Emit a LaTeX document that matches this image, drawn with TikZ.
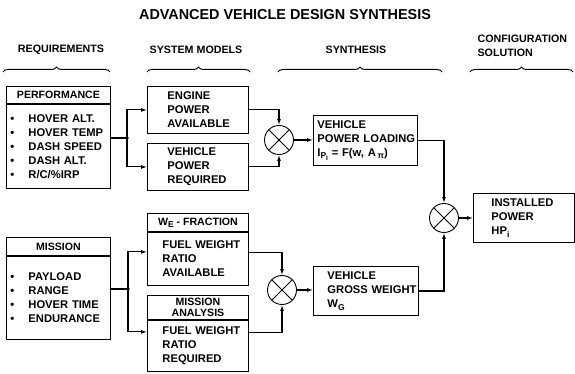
\documentclass[tikz,border=0pt]{standalone}
\usepackage{fontspec}
\setmainfont{Liberation Sans}
\usepackage{tikz}
\usetikzlibrary{arrows.meta,calc}
\usetikzlibrary{decorations.pathreplacing}

\newcommand{\itm}{\makebox[18pt][l]{\textbullet}}
\newcommand{\sub}[1]{\raisebox{-0.4ex}{\fontsize{8.5}{9}\selectfont #1}}
\newcommand{\subsub}[1]{\raisebox{-0.4ex}{\fontsize{6.5}{7}\selectfont #1}}

\begin{document}
\begin{tikzpicture}[x=1pt, y=-1pt, >={Latex[length=6pt,width=4pt]},
  box/.style={draw, line width=0.9pt, inner ysep=0pt, align=left, anchor=north west,
    font=\fontsize{11.2}{14}\selectfont\bfseries},
  headbox/.style={box, align=center, inner xsep=0pt, font=\fontsize{10.6}{11.5}\selectfont\bfseries},
  colhead/.style={font=\fontsize{10.7}{14}\selectfont\bfseries},
  curly/.style={decorate, decoration={brace, amplitude=5pt}, line width=1pt},
  flow/.style={line width=1.1pt},
  sumj/.style={draw, circle, line width=0.9pt, minimum size=29pt, inner sep=0pt,
    path picture={\draw[line width=0.9pt]
      (path picture bounding box.north west) -- (path picture bounding box.south east)
      (path picture bounding box.north east) -- (path picture bounding box.south west);}}]

\useasboundingbox (0,0) rectangle (575,374);

\node[font=\fontsize{14.4}{16}\selectfont\bfseries] (title) at (285,15) {ADVANCED VEHICLE DESIGN SYNTHESIS};

\node[colhead] (hreq) at (61,50) {REQUIREMENTS};
\node[colhead] (hsys) at (196,50) {SYSTEM MODELS};
\node[colhead] (hsyn) at (356,50) {SYNTHESIS};
\node[colhead, align=left, anchor=west] (hcfg) at (474,46) {CONFIGURATION\\SOLUTION};

\draw[curly] (3,72) -- (110,72);
\draw[curly] (147,72) -- (250,72);
\draw[curly] (278,72) -- (442,72);
\draw[curly] (470,72) -- (573,72);

\node[headbox, minimum width=104pt, minimum height=17pt] (perfhead) at (6,86) {PERFORMANCE};
\node[box, inner xsep=4pt, text width=96pt, minimum height=84pt] (perfbody) at (perfhead.south west)
  {\itm HOVER~ALT.\\\itm HOVER~TEMP\\\itm DASH~SPEED\\\itm DASH~ALT.\\\itm R/C/\%IRP};

\node[headbox, minimum width=104pt, minimum height=18pt] (mishead) at (6,237) {MISSION};
\node[box, inner xsep=4pt, text width=96pt, minimum height=83pt] (misbody) at (mishead.south west)
  {\itm PAYLOAD\\\itm RANGE\\\itm HOVER~TIME\\\itm ENDURANCE};

\node[box, inner xsep=20pt, text width=61pt, minimum height=47pt] (eng) at (147,86) {ENGINE\\POWER\\AVAILABLE};
\node[box, inner xsep=20pt, text width=61pt, minimum height=47pt] (vpr) at (147,143) {VEHICLE\\POWER\\REQUIRED};

\node[headbox, minimum width=101pt, minimum height=18pt] (wehead) at (147,213) {W\sub{E} - FRACTION};
\node[box, inner xsep=15pt, text width=71pt, minimum height=53pt] (webody) at (wehead.south west)
  {FUEL~WEIGHT\\RATIO\\AVAILABLE};

\node[headbox, minimum width=101pt, minimum height=24pt] (mahead) at (147,295) {MISSION\\ANALYSIS};
\node[box, inner xsep=15pt, text width=71pt, minimum height=51pt] (mabody) at (mahead.south west)
  {FUEL~WEIGHT\\RATIO\\REQUIRED};

\node[box, inner xsep=4pt, text width=96pt, minimum height=50pt] (vpl) at (313,115)
  {\mbox{VEHICLE}\\\mbox{POWER LOADING}\\\mbox{I\sub{P\subsub{I}} = F(w, A\,\sub{π})}};
\node[box, inner xsep=14pt, text width=77pt, minimum height=49pt] (vgw) at (313,266)
  {\mbox{VEHICLE}\\\mbox{GROSS WEIGHT}\\\mbox{W\sub{G}}};
\node[box, inner xsep=18pt, text width=65pt, minimum height=49pt] (inst) at (473,193)
  {INSTALLED\\POWER\\HP\sub{i}};

\node[sumj] (sum1) at (279,140) {};
\node[sumj] (sum2) at (444,218) {};
\node[sumj] (sum3) at (282,290) {};

\coordinate (j1) at (127,138);
\coordinate (j2) at (128,289);

\draw[flow] (perfbody.east |- j1) -- (j1);
\draw[flow, ->] (j1) |- (eng.west);
\draw[flow, ->] (j1) |- (vpr.west);
\fill (j1) circle (1.8pt);
\draw[flow, ->] (eng.east) -| (sum1.north);
\draw[flow, ->] (vpr.east) -| (sum1.south);
\draw[flow, ->] (sum1.east) -- (sum1.east -| vpl.west);
\draw[flow, ->] (vpl.east) -| (sum2.north);
\draw[flow, ->] (sum2.east) -- (sum2.east -| inst.west);
\draw[flow, ->] (vgw.east) -| (sum2.south);

\draw[flow] (misbody.east |- j2) -- (j2);
\draw[flow, ->] (j2) |- ($(webody.north west)+(0,20)$);
\draw[flow, ->] (j2) |- ($(mabody.north west)+(0,12)$);
\fill (j2) circle (1.8pt);
\draw[flow, ->] ($(webody.north east)+(0,21)$) -| (sum3.north);
\draw[flow, ->] ($(mabody.north east)+(0,13)$) -| (sum3.south);
\draw[flow, ->] (sum3.east) -- (sum3.east -| vgw.west);

\end{tikzpicture}
\end{document}
